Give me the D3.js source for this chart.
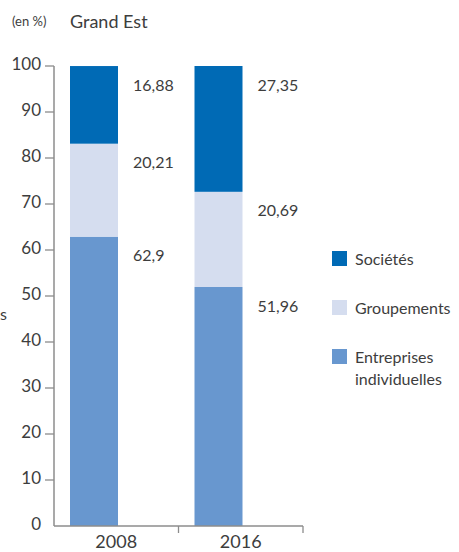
<!DOCTYPE html>
<html><head><meta charset="utf-8">
<script src="https://cdn.jsdelivr.net/npm/d3@7"></script>
<style>
body{margin:0;background:#fff;}
svg{display:block;font-family:Lato,"Open Sans",sans-serif;}
</style></head>
<body><svg id="c" width="459" height="552"></svg>
<script>
const categories = ["2008", "2016"];
const seriesNames = ["Entreprises individuelles", "Groupements", "Sociétés"];
const entreprises = [62.9, 51.96];
const groupements = [20.21, 20.69];
const societes = [16.88, 27.35];
const yTicks = [10, 20, 30, 40, 50, 60, 70, 80, 90, 100];
const yTickLabels = [0, 10, 20, 30, 40, 50, 60, 70, 80, 90, 100];
const colors = ["#6897cf", "#d5ddef", "#006ab5"];
const textColor = "#3d3d3d";
const axisColor = "#8c8c8c";

const svg = d3.select("#c");
const y = d3.scaleLinear().domain([0, 100]).range([526, 66]);
const x = d3.scaleBand().domain(categories).range([54, 303]).paddingInner(0).paddingOuter(0);
const barOffset = 16, barW = 48;

const rows = categories.map((c, i) => ({cat: c, vals: [entreprises[i], groupements[i], societes[i]]}));

// bars
rows.forEach(r => {
  let cum = 0;
  r.vals.forEach((v, k) => {
    const y0 = cum, y1 = cum + v;
    cum = y1;
    svg.append("rect")
      .attr("x", x(r.cat) + barOffset).attr("width", barW)
      .attr("y", y(Math.min(y1, 100))).attr("height", y(y0) - y(Math.min(y1, 100)))
      .attr("fill", colors[k]);
    svg.append("text")
      .attr("x", x(r.cat) + 79).attr("y", y(Math.min(y1, 100)) + 19)
      .attr("dy", "0.35em").attr("font-size", 16).attr("fill", textColor)
      .text(String(v).replace(".", ","));
  });
});

// y axis
svg.append("line").attr("x1", 54).attr("x2", 54).attr("y1", y(100)).attr("y2", y(0))
  .attr("stroke", axisColor).attr("stroke-width", 1.5);
svg.selectAll(".yt").data(yTicks).enter().append("line")
  .attr("x1", 45).attr("x2", 54).attr("y1", d => y(d)).attr("y2", d => y(d))
  .attr("stroke", axisColor).attr("stroke-width", 1.3);
svg.selectAll(".yl").data(yTickLabels).enter().append("text")
  .attr("x", 41).attr("y", d => y(d) - 2).attr("dy", "0.35em")
  .attr("text-anchor", "end").attr("font-size", 17).attr("fill", textColor)
  .text(d => d);

// x axis
svg.append("line").attr("x1", 54).attr("x2", 303).attr("y1", y(0)).attr("y2", y(0))
  .attr("stroke", axisColor).attr("stroke-width", 1.5);
svg.selectAll(".xt").data(categories).enter().append("line")
  .attr("x1", d => x(d) + x.bandwidth()).attr("x2", d => x(d) + x.bandwidth())
  .attr("y1", y(0)).attr("y2", y(0) + 7)
  .attr("stroke", axisColor).attr("stroke-width", 1.3);
svg.selectAll(".xl").data(categories).enter().append("text")
  .attr("x", d => x(d) + x.bandwidth() / 2).attr("y", 548)
  .attr("text-anchor", "middle").attr("font-size", 18).attr("fill", textColor)
  .text(d => d);

// titles
svg.append("text").attr("x", 12).attr("y", 26).attr("font-size", 13).attr("fill", textColor).text("(en %)");
svg.append("text").attr("x", 70).attr("y", 28).attr("font-size", 18).attr("fill", textColor).text("Grand Est");
// cut-off text at left edge
svg.append("text").attr("x", 7).attr("y", 320).attr("text-anchor", "end").attr("font-size", 16).attr("fill", textColor).text("s");

// legend
const legend = [
  {name: "Sociétés", lines: ["Sociétés"], color: colors[2], y: 251},
  {name: "Groupements", lines: ["Groupements"], color: colors[1], y: 300},
  {name: "Entreprises individuelles", lines: ["Entreprises", "individuelles"], color: colors[0], y: 349}
];
legend.forEach(l => {
  svg.append("rect").attr("x", 332).attr("y", l.y).attr("width", 15).attr("height", 15).attr("fill", l.color);
  l.lines.forEach((t, j) => {
    svg.append("text").attr("x", 355).attr("y", l.y + 8 + j * 22).attr("dy", "0.35em")
      .attr("font-size", 16).attr("fill", textColor).text(t);
  });
});
</script></body></html>
